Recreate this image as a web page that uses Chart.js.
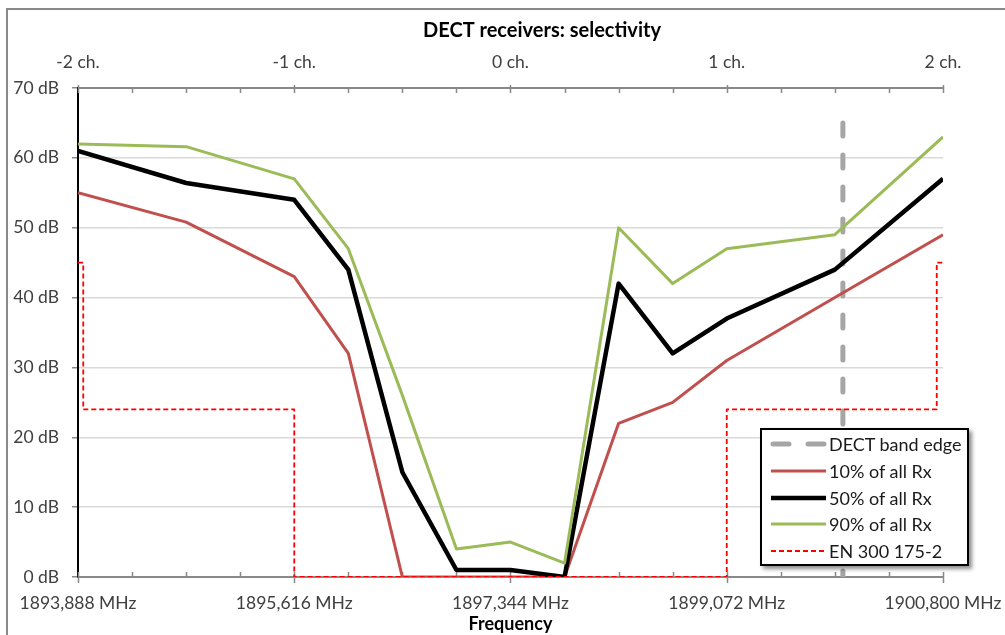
<!DOCTYPE html>
<html>
<head>
<meta charset="utf-8">
<script src="https://cdn.jsdelivr.net/npm/chart.js@4.4.1/dist/chart.umd.min.js"></script>
<style>
   html, body { margin: 0; padding: 0; background: #fff; overflow: hidden; }
   #wrap { position: relative; width: 1005px; height: 635px; overflow: hidden; }
   #c { display: block; }
   #legend {
      position: absolute; left: 760px; top: 428px; width: 209px; height: 138px;
      box-sizing: border-box; border: 2px solid #000; background: #fff;
      box-shadow: 3px 3px 4px rgba(0, 0, 0, 0.45);
      font: 18px Lato, sans-serif; color: #1a1a1a;
   }
   #legend .row { position: absolute; left: 8px; height: 26px; display: flex; align-items: center; }
   #legend svg { width: 58px; height: 12px; margin-right: 1px; }
</style>
</head>
<body>
<div id="wrap">
   <canvas id="c" width="1005" height="635"></canvas>
   <div id="legend"></div>
</div>
<script>
// frequency grid of the measured points (MHz)
const freqMHz = [ 1893.888, 1894.752, 1895.616, 1896.048, 1896.480, 1896.912, 1897.344,
   1897.776, 1898.208, 1898.640, 1899.072, 1899.936, 1900.800 ]

// selectivity (dB) per percentile of receivers
const rx10 = [ 55, 50.8, 43, 32, 0, 0, 0, 0, 22, 25, 31, 40, 49 ]
const rx50 = [ 61, 56.4, 54, 44, 15, 1, 1, 0, 42, 32, 37, 44, 57 ]
const rx90 = [ 62, 61.6, 57, 47, 26, 4, 5, 2, 50, 42, 47, 49, 63 ]

// EN 300 175-2 mask
const maskX = [ 1893.888, 1893.93, 1893.93, 1895.616, 1895.616, 1899.072, 1899.072, 1900.75, 1900.75, 1900.8 ]
const maskY = [ 45, 45, 24, 24, 0, 0, 24, 24, 45, 45 ]

// DECT band edge
const edgeX = [ 1900, 1900 ]
const edgeY = [ 65, 0 ]

const bottomLabels = [ '1893,888 MHz', '1895,616 MHz', '1897,344 MHz', '1899,072 MHz', '1900,800 MHz' ]
const topLabels = [ '-2 ch.', '-1 ch.', '0 ch.', '1 ch.', '2 ch.' ]

const X_MIN = 1893.888
const X_MAX = 1900.8
const QUARTER = 0.432

const pts = ( xs, ys ) => xs.map( ( x, i ) => ( { x, y: ys[ i ] } ) )

const font = { family: 'Lato, sans-serif', size: 17.5 }
const axisGray = '#898989'

const quarterTicks = ( scale ) => {
   const t = []
   for ( let i = 0; i <= 16; i++ ) {
      t.push( { value: X_MIN + i * QUARTER } )
   }
   scale.ticks = t
}

// fixed height, and no extra room for the end labels
const fitTo = ( h ) => ( s ) => {
   s.height = h
   s.paddingLeft = 0
   s.paddingRight = 0
}

const labelFrom = ( list ) => ( v, i ) => ( i % 4 === 0 ? list[ i / 4 ] : '' )

const series = [
   { label: 'DECT band edge', data: pts( edgeX, edgeY ), borderColor: '#a6a6a6', borderWidth: 5,
      borderDash: [ 13, 19 ], borderCapStyle: 'round', order: 5 },
   { label: '10% of all Rx', data: pts( freqMHz, rx10 ), borderColor: '#c0504d', borderWidth: 3, order: 4 },
   { label: '50% of all Rx', data: pts( freqMHz, rx50 ), borderColor: '#000000', borderWidth: 4.5, order: 3 },
   { label: '90% of all Rx', data: pts( freqMHz, rx90 ), borderColor: '#9bbb59', borderWidth: 3, order: 2 },
   { label: 'EN 300 175-2', data: pts( maskX, maskY ), borderColor: '#ff0000', borderWidth: 1.8,
      borderDash: [ 5, 3 ], order: 1 },
]

const frame = {
   id: 'frame',
   beforeDraw( chart ) {
      const { ctx } = chart
      ctx.save()
      ctx.fillStyle = '#fff'
      ctx.fillRect( 0, 0, chart.width, chart.height )
      ctx.strokeStyle = axisGray
      ctx.lineWidth = 2
      ctx.strokeRect( 7, 9, 1100, 800 )

      ctx.fillStyle = '#000'
      ctx.font = 'bold 20px Lato, sans-serif'
      ctx.textAlign = 'center'
      ctx.textBaseline = 'middle'
      ctx.fillText( 'DECT receivers: selectivity', 542, 31 )
      ctx.restore()
   },
   beforeDatasetsDraw( chart ) {
      // excel style tick marks: majors cross, minors inside
      const { ctx, chartArea } = chart
      const xs = chart.scales.x
      ctx.save()
      ctx.strokeStyle = axisGray
      ctx.lineWidth = 1.5
      xs.ticks.forEach( ( t, i ) => {
         const px = Math.round( xs.getPixelForValue( t.value ) ) + 0.5
         const major = i % 4 === 0
         ctx.beginPath()
         ctx.moveTo( px, chartArea.bottom - 5 )
         ctx.lineTo( px, chartArea.bottom + ( major ? 6 : 0 ) )
         ctx.moveTo( px, chartArea.top + 5 )
         ctx.lineTo( px, chartArea.top - ( major ? 3 : 0 ) )
         ctx.stroke()
      } )
      ctx.restore()
   },
}

new Chart( document.getElementById( 'c' ), {
   type: 'line',
   data: { datasets: series },
   plugins: [ frame ],
   options: {
      responsive: false,
      animation: false,
      devicePixelRatio: 1,
      layout: { autoPadding: false, padding: { top: 40, right: 62, bottom: 0, left: 0 } },
      elements: {
         point: { radius: 0, hoverRadius: 0 },
         line: { tension: 0, borderJoinStyle: 'round', fill: false },
      },
      plugins: {
         legend: { display: false },
         tooltip: { enabled: false },
         title: { display: false },
      },
      scales: {
         x: {
            type: 'linear',
            position: 'bottom',
            min: X_MIN,
            max: X_MAX,
            afterBuildTicks: quarterTicks,
            afterFit: fitTo( 58 ),
            grid: { display: false, drawTicks: false },
            border: { display: true, color: axisGray, width: 2 },
            ticks: {
               autoSkip: false, maxRotation: 0, padding: 16,
               color: '#404040', font,
               callback: labelFrom( bottomLabels ),
            },
            title: {
               display: true, text: 'Frequency', color: '#000',
               font: { family: 'Lato, sans-serif', size: 18, weight: 'bold' },
               padding: { top: 0, bottom: 0 },
            },
         },
         x2: {
            type: 'linear',
            position: 'top',
            min: X_MIN,
            max: X_MAX,
            afterBuildTicks: quarterTicks,
            afterFit: fitTo( 48 ),
            grid: { display: false, drawTicks: false },
            border: { display: true, color: axisGray, width: 2 },
            ticks: {
               autoSkip: false, maxRotation: 0, padding: 15,
               color: '#404040', font,
               callback: labelFrom( topLabels ),
            },
         },
         y: {
            min: 0,
            max: 70,
            afterFit( s ) {
               s.width = 78
               s.paddingTop = 0
               s.paddingBottom = 0
            },
            grid: { color: '#d9d9d9', lineWidth: 1.5, tickColor: axisGray, tickLength: 6 },
            border: { display: true, color: '#000', width: 2 },
            ticks: {
               stepSize: 10, padding: 13, color: '#404040', font,
               callback: ( v ) => v + ' dB',
            },
         },
      },
   },
} )

// legend box, drawn as html next to the canvas
const legend = document.getElementById( 'legend' )
series.forEach( ( s, i ) => {
   const row = document.createElement( 'div' )
   row.className = 'row'
   row.style.top = ( 1 + i * 26.8 ) + 'px'
   const dash = s.borderDash ? `stroke-dasharray="${ s.borderDash.join( ' ' ) }"` : ''
   const cap = s.borderCapStyle === 'round' ? 'round' : 'butt'
   const x1 = cap === 'round' ? 3 : 1
   const sw = s.borderDash && cap !== 'round' ? 2 : s.borderWidth
   const da = cap === 'round' ? 'stroke-dasharray="16 19"' : dash
   row.innerHTML = `<svg viewBox="0 0 58 12"><line x1="${ x1 }" y1="6" x2="56" y2="6" stroke="${ s.borderColor }"
      stroke-width="${ sw }" stroke-linecap="${ cap }" ${ da }/></svg><span>${ s.label }</span>`
   legend.appendChild( row )
} )
</script>
</body>
</html>
